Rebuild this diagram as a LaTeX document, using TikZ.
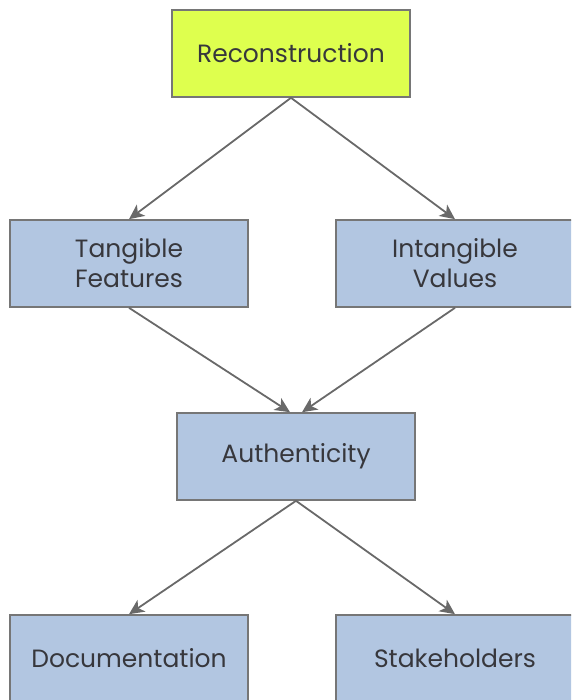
\documentclass[tikz,border=0pt]{standalone}
\usepackage{fontspec}
\setmainfont{Poppins}
\usetikzlibrary{arrows.meta}
\definecolor{lime}{RGB}{222,255,78}
\definecolor{steel}{RGB}{178,198,225}
\definecolor{edge}{RGB}{118,118,118}
\definecolor{arr}{RGB}{105,105,105}
\definecolor{txt}{RGB}{55,55,60}
\begin{document}
\begin{tikzpicture}[x=1pt,y=-1pt,
  box/.style={draw=edge,line width=1.6pt,minimum width=238pt,minimum height=87pt,
    inner sep=0pt,align=center,text=txt,font=\fontsize{25}{30}\selectfont},
  topbox/.style={box,fill=lime},
  bluebox/.style={box,fill=steel},
  conn/.style={draw=arr,line width=1.8pt,-{Stealth[length=15pt,width=14pt,inset=4pt]}}]
\useasboundingbox (0,0) rectangle (571,700);
\clip (0,0) rectangle (571,700);
\node[topbox] (rec) at (291,53.5) {Reconstruction};
\node[bluebox] (tan) at (129,263.5) {Tangible\\Features};
\node[bluebox] (int) at (455,263.5) {Intangible\\Values};
\node[bluebox] (aut) at (296,456.5) {Authenticity};
\node[bluebox] (doc) at (129,658.5) {Documentation};
\node[bluebox] (sta) at (455,658.5) {Stakeholders};
\draw[conn] (rec.south) -- (tan.north);
\draw[conn] (rec.south) -- (int.north);
\draw[conn] (tan.south) -- ([xshift=-6pt]aut.north);
\draw[conn] (int.south) -- ([xshift=6pt]aut.north);
\draw[conn] (aut.south) -- (doc.north);
\draw[conn] (aut.south) -- (sta.north);
\end{tikzpicture}
\end{document}
